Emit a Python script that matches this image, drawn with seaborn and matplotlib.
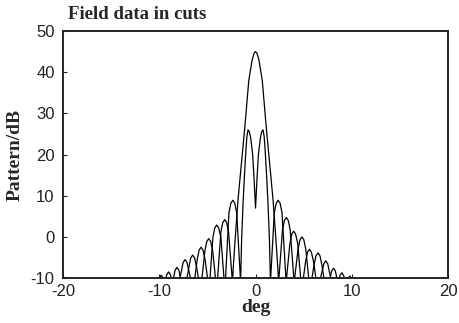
import pandas as pd
import matplotlib
matplotlib.use("Agg")
import matplotlib.pyplot as plt
import seaborn as sns

# sum pattern, vertices (deg, dB)
sum_deg = [-10.6, -10.2, -10.0, -9.8, -9.6, -9.4, -8.98,
           -8.56, -8.36, -8.16, -7.96, -7.76, -7.35,
           -6.93, -6.73, -6.53, -6.33, -6.12, -5.7,
           -5.26, -5.06, -4.86, -4.66, -4.45, -4.03,
           -3.6, -3.4, -3.2, -3.0, -2.8, -2.4,
           -2.3, -2.1, -1.82, -1.5, -1.1, -0.7, -0.35, -0.15, 0.0,
           0.15, 0.35, 0.7, 1.1, 1.5, 1.82, 2.1, 2.3, 2.4,
           2.8, 3.0, 3.2, 3.4, 3.6, 4.01,
           4.42, 4.62, 4.82, 5.02, 5.22, 5.66,
           6.07, 6.28, 6.5, 6.7, 6.9, 7.3,
           7.7, 7.9, 8.1, 8.3, 8.5, 8.95,
           9.4, 9.6, 9.8, 10.0, 10.2, 10.6]
sum_db = [-13, -12.3, -10.0, -9.3, -10.0, -12.3, -13,
          -10.4, -8.1, -7.4, -8.1, -10.4, -13,
          -7.4, -5.1, -4.4, -5.1, -7.4, -13,
          -3.4, -1.1, -0.4, -1.1, -3.4, -13,
          1.2, 3.5, 4.2, 3.5, 1.2, -11,
          -7, 0, 9, 17, 27, 38, 43, 44.6, 45,
          44.6, 43, 38, 27, 17, 9, 0, -7, -11,
          1.7, 4.0, 4.7, 4.0, 1.7, -11,
          -3.0, -0.7, 0.0, -0.7, -3.0, -13,
          -6.9, -4.6, -3.9, -4.6, -6.9, -13,
          -10.6, -8.3, -7.6, -8.3, -10.6, -13,
          -12.5, -10.2, -9.5, -10.2, -12.5, -13]

# difference pattern, vertices (deg, dB)
diff_deg = [-9.8, -9.43, -9.23, -9.03, -8.83, -8.6, -8.15,
            -7.72, -7.52, -7.32, -7.12, -6.9, -6.47,
            -6.06, -5.86, -5.66, -5.46, -5.24, -4.82,
            -4.43, -4.23, -4.03, -3.83, -3.6, -3.18,
            -2.76, -2.56, -2.36, -2.16, -1.96, -1.55,
            -1.45, -1.3, -1.15, -1.0, -0.9, -0.78, -0.65, -0.5, -0.3, -0.15, 0.0,
            0.15, 0.3, 0.5, 0.65, 0.78, 0.9, 1.0, 1.15, 1.3, 1.45, 1.55,
            1.95, 2.15, 2.35, 2.55, 2.75, 3.18,
            3.57, 3.77, 3.96, 4.16, 4.38, 4.8,
            5.2, 5.4, 5.6, 5.8, 6.03, 6.45,
            6.87, 7.1, 7.3, 7.5, 7.7, 8.13,
            8.55, 8.76, 8.96, 9.16, 9.38, 9.8]
diff_db = [-13, -11.5, -9.2, -8.5, -9.2, -11.5, -13,
           -8.5, -6.2, -5.5, -6.2, -8.5, -13,
           -5.5, -3.2, -2.5, -3.2, -5.5, -13,
           -0.1, 2.2, 2.9, 2.2, -0.1, -13,
           5.9, 8.2, 8.9, 8.2, 5.9, -11,
           -1, 8, 15, 21, 24.3, 26, 25.6, 24, 20, 14, 7,
           14, 20, 24, 25.6, 26, 24.3, 21, 15, 8, -1, -11,
           5.9, 8.2, 8.9, 8.2, 5.9, -11,
           -1.6, 0.7, 1.4, 0.7, -1.6, -13,
           -6.0, -3.7, -3.0, -3.7, -6.0, -13,
           -8.8, -6.5, -5.8, -6.5, -8.8, -13,
           -11.7, -9.4, -8.7, -9.4, -11.7, -13]

x_ticks = [-20, -10, 0, 10, 20]
y_ticks = [-10, 0, 10, 20, 30, 40, 50]

df_sum = pd.DataFrame({"deg": sum_deg, "dB": sum_db})
df_diff = pd.DataFrame({"deg": diff_deg, "dB": diff_db})

sns.set_style("ticks")
plt.rcParams["font.family"] = ["Liberation Sans", "DejaVu Sans"]
plt.rcParams["axes.unicode_minus"] = False
plt.rcParams["xtick.direction"] = "in"
plt.rcParams["ytick.direction"] = "in"

fig = plt.figure(figsize=(4.6, 3.23), dpi=100)
ax = fig.add_axes([0.137, 0.139, 0.837, 0.765])

sns.lineplot(data=df_sum, x="deg", y="dB", ax=ax, color="black", lw=0.9, sort=False)
sns.lineplot(data=df_diff, x="deg", y="dB", ax=ax, color="black", lw=0.9, sort=False)

ax.set_xlim(-20, 20)
ax.set_ylim(-10, 50)
ax.set_xticks(x_ticks)
ax.set_yticks(y_ticks)
ax.tick_params(labelsize=12, length=3, width=0.8, colors="#222222")
ax.tick_params(axis="x", pad=4)
ax.tick_params(axis="y", pad=6)
for s in ax.spines.values():
    s.set_visible(True)
    s.set_linewidth(1.4)
    s.set_color("#222222")

serif = ["Liberation Serif", "DejaVu Serif"]
ax.set_xlabel("deg", family=serif, fontweight="bold", fontsize=14, labelpad=0)
ax.set_ylabel("Pattern/dB", family=serif, fontweight="bold", fontsize=14, labelpad=5)
fig.text(0.148, 0.955, "Field data in cuts", family=serif, fontweight="bold",
         fontsize=13.5, ha="left", va="center")

fig.savefig("out.png", dpi=100)
